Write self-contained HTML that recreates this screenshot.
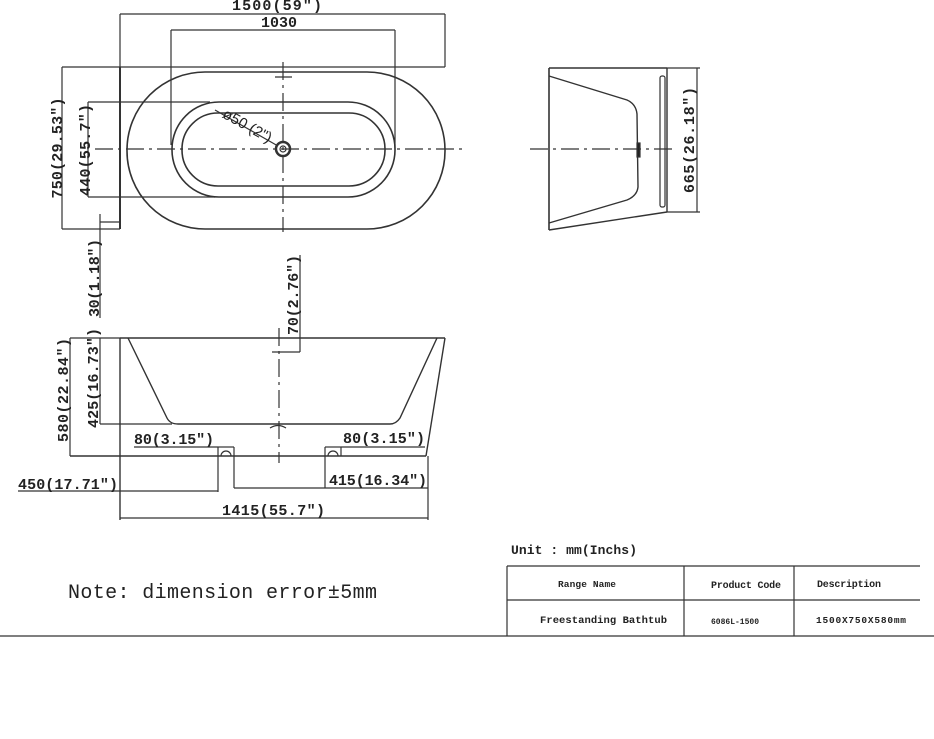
<!DOCTYPE html>
<html><head><meta charset="utf-8"><style>
html,body{margin:0;padding:0;background:#fff;}
svg{display:block;}
text{font-family:"Liberation Mono",monospace;fill:#222;font-weight:bold;}
.t{font-family:"Liberation Mono",monospace;font-size:15px;}
</style></head><body>
<svg width="934" height="739" viewBox="0 0 934 739" xmlns="http://www.w3.org/2000/svg">
<g fill="none" stroke="#333" stroke-width="1.2">
<line x1="120" y1="14" x2="445" y2="14"/>
<line x1="120" y1="14" x2="120" y2="229"/>
<line x1="445" y1="14" x2="445" y2="67"/>
<line x1="171" y1="30" x2="395" y2="30"/>
<line x1="171" y1="30" x2="171" y2="145"/>
<line x1="395" y1="30" x2="395" y2="150"/>
<line x1="62" y1="67" x2="445" y2="67"/>
<line x1="62" y1="67" x2="62" y2="229"/>
<line x1="62" y1="229" x2="120" y2="229"/>
<line x1="88" y1="102" x2="88" y2="197"/>
<line x1="88" y1="102" x2="210" y2="102"/>
<line x1="88" y1="197" x2="215" y2="197"/>
<line x1="100" y1="214" x2="100" y2="318"/>
<line x1="100" y1="222" x2="120" y2="222"/>
<rect x="127" y="72" width="318" height="157" rx="78" stroke-width="1.6"/>
<rect x="172" y="102" width="223" height="95" rx="47" stroke-width="1.6"/>
<rect x="182" y="113" width="203" height="73" rx="36" stroke-width="1.6"/>
<circle cx="283" cy="149" r="7" stroke-width="2.5"/>
<circle cx="283" cy="149" r="3"/>
<line x1="215" y1="110" x2="278" y2="146"/>
<line x1="275" y1="77" x2="292" y2="77"/>
<line x1="95" y1="149" x2="465" y2="149" stroke-dasharray="18,5,3,5"/>
<line x1="283" y1="62" x2="283" y2="232" stroke-dasharray="18,5,3,5"/>
<line x1="120" y1="67" x2="120" y2="229" stroke-width="2"/>
<line x1="300" y1="255" x2="300" y2="352"/>
<line x1="272" y1="352" x2="300" y2="352"/>
<line x1="120" y1="338" x2="445" y2="338" stroke-width="1.6"/>
<line x1="120" y1="338" x2="120" y2="520" stroke-width="1.4"/>
<line x1="445" y1="338" x2="426" y2="456" stroke-width="1.4"/>
<line x1="70" y1="456" x2="426" y2="456" stroke-width="1.4"/>
<path d="M128 338 L167 418 Q170 424 178 424 L390 424 Q396 424 400 418 L437 338" stroke-width="1.4"/>
<line x1="100" y1="338" x2="100" y2="424"/>
<line x1="100" y1="424" x2="172" y2="424"/>
<line x1="70" y1="338" x2="70" y2="456"/>
<line x1="70" y1="338" x2="120" y2="338"/>
<line x1="279" y1="328" x2="279" y2="463" stroke-dasharray="18,5,3,5"/>
<path d="M270 428 Q278 423 286 428"/>
<line x1="218" y1="447" x2="218" y2="492"/>
<line x1="234" y1="447" x2="234" y2="488"/>
<line x1="218" y1="447" x2="234" y2="447"/>
<path d="M221 456 A5 5 0 0 1 231 456"/>
<line x1="325" y1="447" x2="325" y2="488"/>
<line x1="341" y1="447" x2="341" y2="456"/>
<line x1="325" y1="447" x2="341" y2="447"/>
<path d="M328 456 A5 5 0 0 1 338 456"/>
<line x1="234" y1="488" x2="428" y2="488"/>
<line x1="18" y1="491" x2="218" y2="491"/>
<line x1="134" y1="447" x2="218" y2="447"/>
<line x1="341" y1="447" x2="425" y2="447"/>
<line x1="120" y1="518" x2="428" y2="518"/>
<line x1="428" y1="456" x2="428" y2="520"/>
<line x1="549" y1="68" x2="667" y2="68" stroke-width="1.6"/>
<line x1="549" y1="68" x2="549" y2="230" stroke-width="1.6"/>
<line x1="667" y1="68" x2="667" y2="212" stroke-width="1.4"/>
<line x1="549" y1="230" x2="667" y2="212" stroke-width="1.4"/>
<path d="M549 76 L627 100 Q636 104 637 114 L638 187 Q637 196 627 200 L549 223" stroke-width="1.4"/>
<rect x="660" y="76" width="5" height="131" rx="2"/>
<line x1="697" y1="68" x2="697" y2="212"/>
<line x1="667" y1="68" x2="700" y2="68"/>
<line x1="667" y1="212" x2="700" y2="212"/>
<line x1="530" y1="149" x2="675" y2="149" stroke-dasharray="18,5,3,5"/>
<rect x="637" y="143" width="3" height="14" fill="#222"/>
<line x1="0" y1="636" x2="934" y2="636" stroke="#555" stroke-width="1.5"/>
<line x1="507" y1="566" x2="920" y2="566"/>
<line x1="507" y1="600" x2="920" y2="600"/>
<line x1="507" y1="566" x2="507" y2="636"/>
<line x1="684" y1="566" x2="684" y2="636"/>
<line x1="794" y1="566" x2="794" y2="636"/>
</g>
<text class="t" x="277" y="10" text-anchor="middle" textLength="90">1500(59")</text>
<text class="t" x="279" y="27" text-anchor="middle">1030</text>
<text class="t" transform="translate(62,148) rotate(-90)" text-anchor="middle" textLength="101">750(29.53")</text>
<text class="t" transform="translate(90,150) rotate(-90)" text-anchor="middle" textLength="92">440(55.7")</text>
<text class="t" transform="translate(99,278) rotate(-90)" text-anchor="middle" textLength="78">30(1.18")</text>
<text class="t" transform="translate(298,295) rotate(-90)" text-anchor="middle" textLength="80">70(2.76")</text>
<text class="t" transform="translate(245,130) rotate(29)" text-anchor="middle" style="font-weight:normal;font-family:'Liberation Sans',sans-serif" font-size="17">ø50 (2")</text>
<text class="t" transform="translate(694,140) rotate(-90)" text-anchor="middle" textLength="106">665(26.18")</text>
<text class="t" transform="translate(68,390) rotate(-90)" text-anchor="middle" textLength="104">580(22.84")</text>
<text class="t" transform="translate(98,378) rotate(-90)" text-anchor="middle" textLength="100">425(16.73")</text>
<text class="t" x="134" y="444" textLength="80">80(3.15")</text>
<text class="t" x="343" y="443" textLength="82">80(3.15")</text>
<text class="t" x="18" y="489" textLength="100">450(17.71")</text>
<text class="t" x="329" y="485" textLength="98">415(16.34")</text>
<text class="t" x="222" y="515" textLength="103">1415(55.7")</text>
<text x="68" y="598" font-size="20" textLength="309" style="font-weight:normal">Note: dimension error±5mm</text>
<text x="511" y="554" font-size="13" textLength="126">Unit : mm(Inchs)</text>
<text x="558" y="587" font-size="9.5" textLength="58">Range Name</text>
<text x="711" y="588" font-size="10" textLength="70">Product Code</text>
<text x="817" y="587" font-size="10" textLength="64">Description</text>
<text x="540" y="623" font-size="10.5" textLength="127">Freestanding Bathtub</text>
<text x="711" y="624" font-size="8" textLength="48">6086L-1500</text>
<text x="816" y="623" font-size="9.5" textLength="90">1500X750X580mm</text>
</svg>
</body></html>
